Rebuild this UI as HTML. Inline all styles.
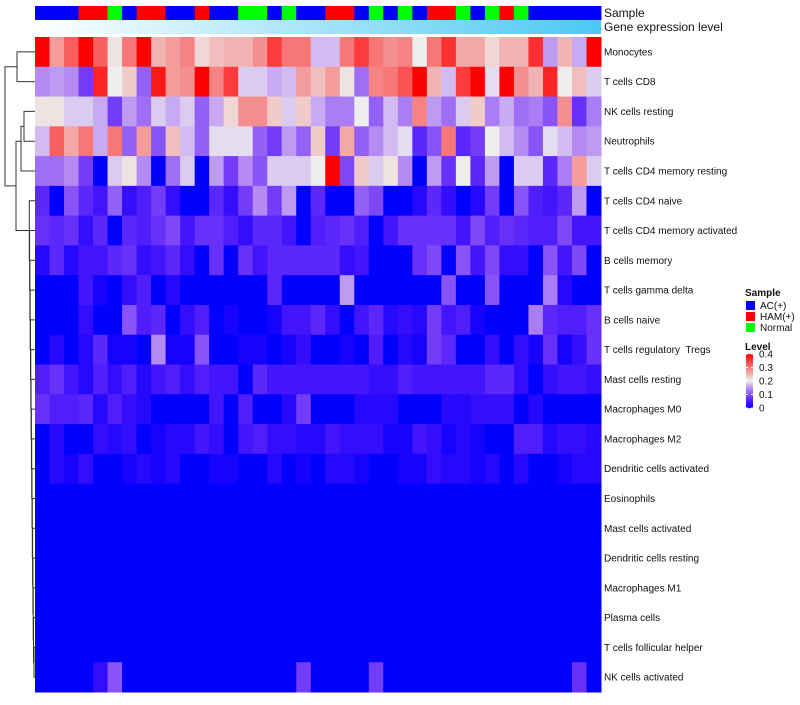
<!DOCTYPE html>
<html><head><meta charset="utf-8"><style>
body{margin:0;background:#fff;}
svg text{font-family:"Liberation Sans",sans-serif;fill:#111;}
</style></head><body>
<svg id="c" width="800" height="700" xmlns="http://www.w3.org/2000/svg"></svg>
<script>
const rowLabels=["Monocytes","T cells CD8","NK cells resting","Neutrophils","T cells CD4 memory resting","T cells CD4 naive","T cells CD4 memory activated","B cells memory","T cells gamma delta","B cells naive","T cells regulatory  Tregs","Mast cells resting","Macrophages M0","Macrophages M2","Dendritic cells activated","Eosinophils","Mast cells activated","Dendritic cells resting","Macrophages M1","Plasma cells","T cells follicular helper","NK cells activated"];
const sampleGroups=["A","A","A","H","H","N","A","H","H","A","A","H","A","A","N","N","A","N","A","A","H","H","A","N","A","N","A","H","H","N","A","N","H","N","A","A","A","A","A"];
const Z=new Array(39).fill(0);
const values=[
[.4,.27,.32,.4,.32,.21,.3,.4,.25,.27,.29,.22,.24,.25,.25,.28,.35,.3,.3,.17,.17,.3,.35,.3,.28,.29,.2,.3,.36,.26,.26,.22,.25,.25,.36,.15,.25,.16,.4],
[.14,.15,.14,.08,.37,.2,.23,.11,.38,.27,.28,.4,.29,.35,.18,.18,.16,.17,.27,.24,.27,.21,.12,.29,.3,.33,.4,.25,.17,.35,.4,.19,.4,.28,.25,.37,.2,.24,.18],
[.21,.21,.18,.18,.16,.08,.15,.12,.18,.16,.18,.11,.16,.22,.28,.28,.23,.18,.23,.16,.13,.13,.2,.11,.17,.13,.29,.15,.12,.18,.23,.13,.16,.12,.13,.1,.28,.07,.13],
[.17,.32,.26,.3,.16,.3,.11,.27,.1,.24,.17,.11,.19,.19,.19,.11,.08,.15,.11,.23,.08,.26,.11,.14,.17,.19,.06,.1,.3,.06,.08,.2,.17,.14,.1,.19,.17,.14,.15],
[.12,.12,.14,.08,0,.18,.21,.14,0,.12,.18,0,.15,.08,.14,.1,.18,.18,.18,.2,.4,.09,.23,.18,.21,.14,0,.15,.07,.2,.06,.15,0,.18,.18,.06,.13,.27,.18],
[.06,0,.1,.06,.04,.11,.03,.05,.08,.03,0,0,.06,.03,.08,.14,.08,.15,0,.06,0,0,.11,.09,0,0,.02,.06,.03,0,.02,.08,0,.1,.05,.04,.06,.15,0],
[.07,.06,.07,.03,.06,0,.06,.05,.07,.09,.04,.07,.07,.05,.03,.06,.06,.04,0,.05,.06,.07,.05,0,.04,.07,.07,.07,.07,.04,.09,.05,.07,.06,.05,.05,.09,.04,.04],
[.02,.06,.02,.04,.04,.06,.07,.03,.04,.06,.03,0,.07,0,.07,.04,.06,.06,.06,.06,.06,.03,.04,0,0,0,.07,.09,0,.1,.04,.09,.03,.03,0,.1,.04,.09,0],
[0,0,0,.04,.01,0,.03,.05,0,.02,0,0,0,0,0,0,.06,0,0,0,0,.15,0,0,0,0,0,0,.1,0,0,.1,0,0,0,.13,.02,0,0],
[0,0,0,.03,0,0,.1,.05,.06,0,.03,.05,0,.01,0,0,.01,.04,.04,.06,.03,0,.04,.06,.02,.03,.02,.08,.04,.05,.01,0,0,0,.13,.06,.05,.05,.07],
[0,.02,0,.02,.06,.01,.01,0,.14,.01,.01,.1,0,0,.01,.01,0,.01,.03,0,0,.01,0,.05,0,.02,.01,.08,.06,0,0,.03,0,.03,.01,.07,.01,.03,.07],
[.05,.07,.04,.02,.05,.03,.05,.02,.04,.05,.03,.05,.04,.04,0,.06,.04,.04,.04,.04,.04,.04,.04,.03,.03,.05,.04,.04,.04,.04,.04,.06,.06,.03,0,.03,.04,.04,.03],
[.07,.05,.05,.06,.02,.05,.03,.02,0,0,0,0,.04,0,.05,0,0,.02,.08,0,0,0,.02,.02,.02,0,0,0,.02,.02,.03,.03,.03,0,.02,0,0,0,0],
[0,.02,0,0,.03,.02,.03,0,.01,.02,.02,.04,.03,0,.04,.05,.03,.03,.02,.02,.04,.03,.03,.03,.01,.01,.04,.03,.01,.02,.01,0,0,.05,.05,.02,.03,.03,.02],
[0,.02,.01,.03,0,0,.01,.02,.01,.02,0,0,.01,.01,0,0,.02,0,.01,0,.02,.02,.01,0,0,.01,.01,.03,.02,.02,.01,.02,0,.02,0,0,.01,.02,.02],
Z,Z,Z,Z,Z,Z,
[0,0,0,0,.03,.1,0,0,0,0,0,0,0,0,0,0,0,0,.08,0,0,0,0,.08,0,0,0,0,0,0,0,0,0,0,0,0,0,.07,0]
];
const levelTicks=[0,0.1,0.2,0.3,0.4];
const groupNames={A:"AC(+)",H:"HAM(+)",N:"Normal"};
const groupColors={A:"#0000ff",H:"#ff0000",N:"#00ff00"};

const NS="http://www.w3.org/2000/svg";
const svg=document.getElementById('c');
function mk(t,a,p){const e=document.createElementNS(NS,t);for(const k in a)e.setAttribute(k,a[k]);(p||svg).appendChild(e);return e;}
const X0=35,X1=601,Y0=37,Y1=692;
const nc=sampleGroups.length,nr=rowLabels.length;
const cw=(X1-X0)/nc,rh=(Y1-Y0)/nr;
const xs=i=>X0+i*cw, ys=j=>Y0+j*rh;
function lerp(a,b,t){return a.map((v,i)=>Math.round(v+(b[i]-v)*t));}
function col(v){const t=Math.max(0,Math.min(1,v/0.4));
 let c;
 if(t<0.5){const u=t*2;c=[Math.round(238*Math.pow(u,0.8)),Math.round(238*Math.pow(u,1.5)),Math.round(255-17*u)];}
 else c=lerp([238,238,238],[255,0,0],(t-0.5)*2);
 return `rgb(${c[0]},${c[1]},${c[2]})`;}
sampleGroups.forEach((g,i)=>{const r=mk('rect',{x:xs(i),y:6,width:cw+0.5,height:14,fill:groupColors[g]});

});
const defs=mk('defs',{});
const lg=mk('linearGradient',{id:'ge',x1:'0',x2:'1',y1:'0',y2:'0'},defs);
mk('stop',{offset:'0','stop-color':'#ffffff'},lg);mk('stop',{offset:'1','stop-color':'#4cc8f4'},lg);
const ge=mk('rect',{x:X0,y:20,width:X1-X0,height:14,fill:'url(#ge)'});


let t=mk('text',{x:604,y:17,'font-size':12});t.textContent='Sample';

t=mk('text',{x:604,y:31,'font-size':12});t.textContent='Gene expression level';

values.forEach((row,j)=>{row.forEach((v,i)=>{const r=mk('rect',{x:xs(i),y:ys(j),width:cw+0.5,height:rh+0.5,fill:col(v)});

});
const l=mk('text',{x:604,y:ys(j)+rh/2+3.5,'font-size':10,'xml:space':'preserve'});l.textContent=rowLabels[j];
l.style.whiteSpace='pre';

});
const cy=j=>ys(j)+rh/2;
const g=mk('g',{stroke:'#333','stroke-width':1,fill:'none'});

function link(xa,ya,xb,yb,xm){mk('path',{d:`M${xa},${ya}H${xm}V${yb}H${xb}`},g);}
link(35,cy(0),35,cy(1),17);
link(35,cy(2),35,cy(3),24);
link(24,(cy(2)+cy(3))/2,35,cy(4),21);
let yPrev,xPrev;
link(35,cy(20),35,cy(21),34);yPrev=(cy(20)+cy(21))/2;xPrev=34;
for(let j=19;j>=5;j--){const xm=Math.max(29,33.5-(19-j)*0.3);link(35,cy(j),xPrev,yPrev,xm);yPrev=(cy(j)+yPrev)/2;xPrev=xm;}
link(21,(cy(2)+cy(4))/2,xPrev,yPrev,16);
const ya=(cy(0)+cy(1))/2, yb=(((cy(2)+cy(4))/2)+yPrev)/2;
link(17,ya,16,yb,5);
t=mk('text',{x:745,y:296,'font-size':10,'font-weight':'bold'});t.textContent='Sample';

["A","H","N"].forEach((k,i)=>{const r=mk('rect',{x:746,y:301+i*11,width:9,height:9,fill:groupColors[k]});

const tx=mk('text',{x:760,y:309+i*11,'font-size':10});tx.textContent=groupNames[k];
});
t=mk('text',{x:745,y:350,'font-size':10,'font-weight':'bold'});t.textContent='Level';

const cb0=408,cb1=354;
for(let k=0;k<54;k++){const v=0.4*k/54;mk('rect',{x:746,y:cb0-(k+1),width:7,height:1.2,fill:col(v)});}
levelTicks.forEach(v=>{const y=cb0-(v/0.4)*(cb0-cb1);
mk('line',{x1:746,x2:748,y1:y,y2:y,stroke:'#fff'});mk('line',{x1:751,x2:753,y1:y,y2:y,stroke:'#fff'});
const tx=mk('text',{x:759,y:y+3.5,'font-size':10});tx.textContent=String(v);
});
</script>
</body></html>
